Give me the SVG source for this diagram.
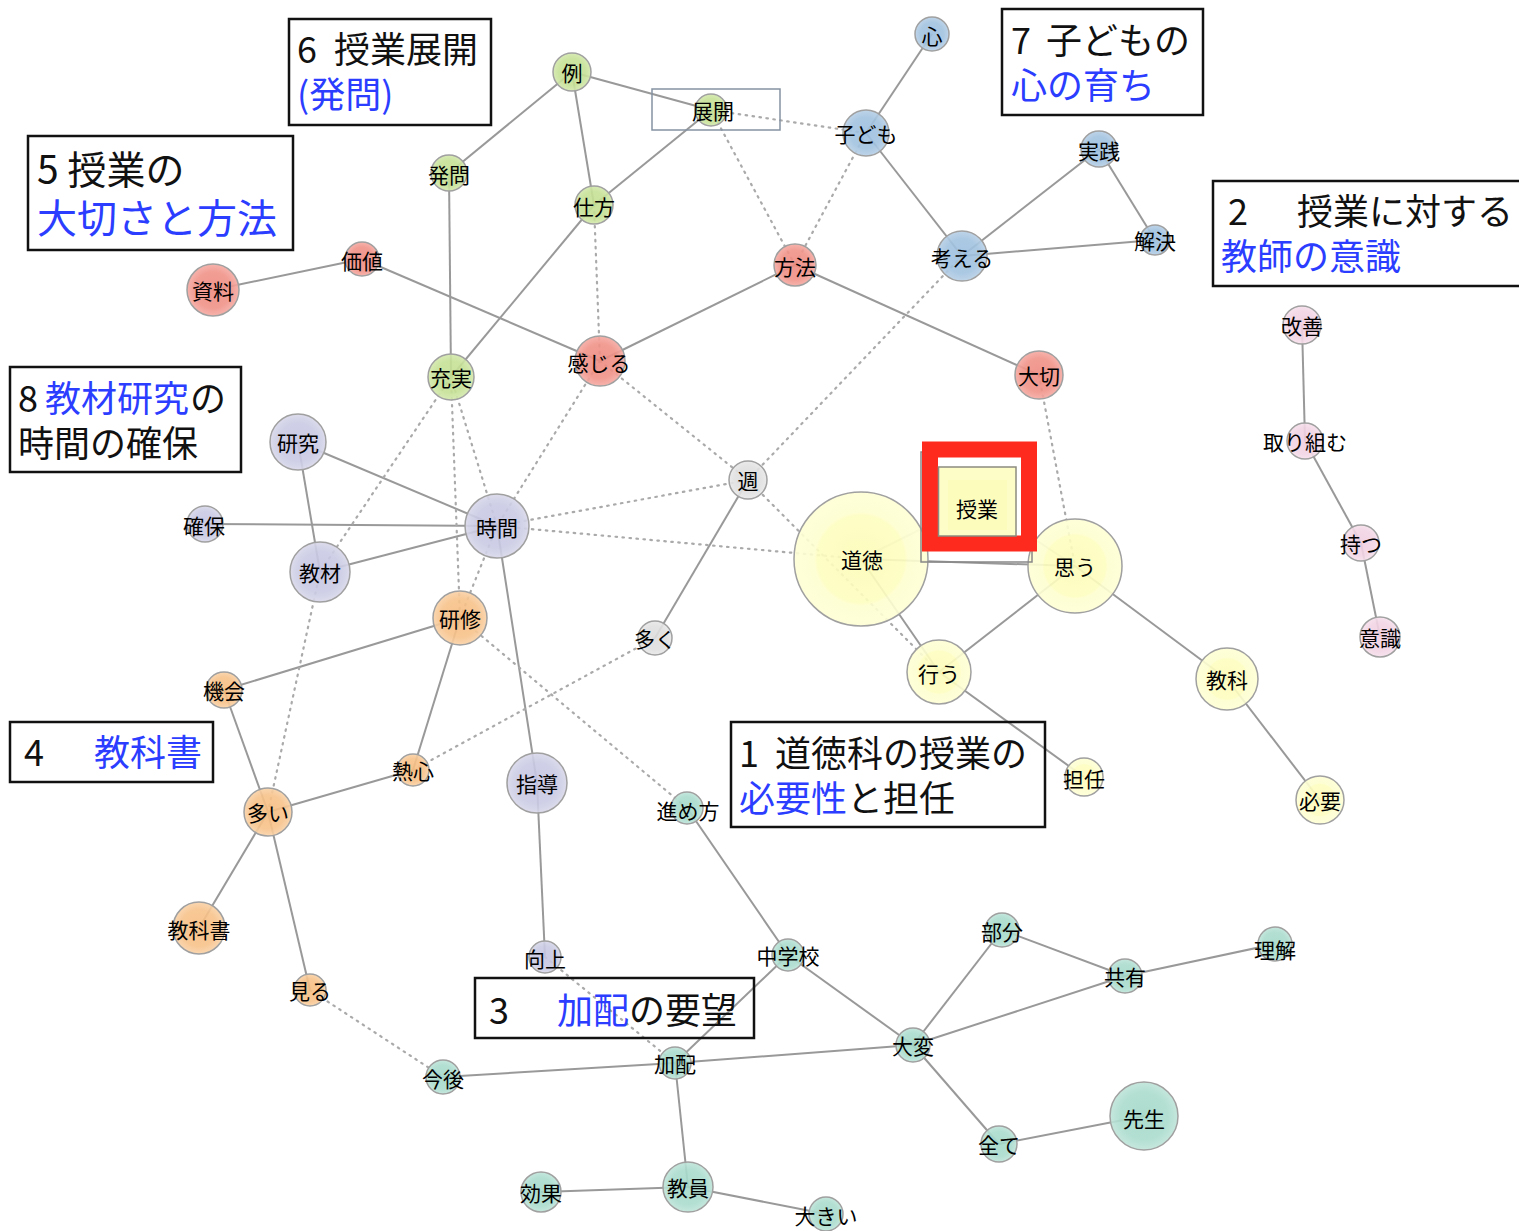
<svg xmlns="http://www.w3.org/2000/svg" width="1519" height="1231" viewBox="0 0 1519 1231">
<style>
.e{stroke:#999;stroke-width:2;fill:none}
.d{stroke:#aaa;stroke-width:2.2;fill:none;stroke-dasharray:1.5 5.5;stroke-linecap:round}
.n circle{stroke:#a0a0a0;stroke-width:1.5;fill-opacity:0.9}
.n text{font-family:"Noto Sans CJK JP","Noto Sans",sans-serif;font-size:21px;fill:#000;text-anchor:middle;dominant-baseline:central}
.g circle{fill:url(#gG)}.r circle{fill:url(#gR)}.b circle{fill:url(#gB)}.p circle{fill:url(#gP)}
.l circle{fill:url(#gL)}.o circle{fill:url(#gO)}.y circle{fill:url(#gY)}.t circle{fill:url(#gT)}.k circle{fill:url(#gK)}
.box rect{fill:none;stroke:#111;stroke-width:2.5}
.box text{font-family:"Noto Sans CJK JP","Noto Sans",sans-serif;font-size:36px;fill:#111}
.box .bl{fill:#2b3dff}
</style>
<defs>
<radialGradient id="gG"><stop offset="0" stop-color="#c3df91"/><stop offset="0.7" stop-color="#c6e196"/><stop offset="1" stop-color="#d3e8ad"/></radialGradient>
<radialGradient id="gR"><stop offset="0" stop-color="#ee8a80"/><stop offset="0.7" stop-color="#f09389"/><stop offset="1" stop-color="#f5aba3"/></radialGradient>
<radialGradient id="gB"><stop offset="0" stop-color="#9cbfdf"/><stop offset="0.7" stop-color="#a3c3e0"/><stop offset="1" stop-color="#b8d0e6"/></radialGradient>
<radialGradient id="gP"><stop offset="0" stop-color="#f0cfe0"/><stop offset="0.7" stop-color="#f2d4e4"/><stop offset="1" stop-color="#f6e0eb"/></radialGradient>
<radialGradient id="gL"><stop offset="0" stop-color="#c5c5e3"/><stop offset="0.7" stop-color="#cacae4"/><stop offset="1" stop-color="#d8d8ea"/></radialGradient>
<radialGradient id="gO"><stop offset="0" stop-color="#f6bd80"/><stop offset="0.7" stop-color="#f7c28a"/><stop offset="1" stop-color="#f9d2a8"/></radialGradient>
<radialGradient id="gY"><stop offset="0" stop-color="#fcfcb8"/><stop offset="0.65" stop-color="#fdfdc0"/><stop offset="0.7" stop-color="#fefed0"/><stop offset="1" stop-color="#fefed4"/></radialGradient>
<radialGradient id="gT"><stop offset="0" stop-color="#a4d8c8"/><stop offset="0.7" stop-color="#aadccd"/><stop offset="1" stop-color="#c0e4d9"/></radialGradient>
<radialGradient id="gK"><stop offset="0" stop-color="#dcdcdc"/><stop offset="0.7" stop-color="#e0e0e0"/><stop offset="1" stop-color="#e8e8e8"/></radialGradient>
</defs>
<rect width="1519" height="1231" fill="#fff"/>
<g id="connectors">
<line class="e" x1="572" y1="72" x2="449" y2="173"/>
<line class="e" x1="572" y1="72" x2="711" y2="110"/>
<line class="e" x1="572" y1="72" x2="594" y2="205"/>
<line class="e" x1="711" y1="110" x2="594" y2="205"/>
<line class="e" x1="594" y1="205" x2="451" y2="377"/>
<line class="e" x1="449" y1="173" x2="451" y2="377"/>
<line class="e" x1="213" y1="290" x2="362" y2="259"/>
<line class="e" x1="362" y1="259" x2="600" y2="361"/>
<line class="e" x1="600" y1="361" x2="795" y2="265"/>
<line class="e" x1="795" y1="265" x2="1039" y2="375"/>
<line class="e" x1="932" y1="34" x2="866" y2="133"/>
<line class="e" x1="866" y1="133" x2="962" y2="256"/>
<line class="e" x1="962" y1="256" x2="1099" y2="149"/>
<line class="e" x1="962" y1="256" x2="1155" y2="240"/>
<line class="e" x1="1099" y1="149" x2="1155" y2="240"/>
<line class="e" x1="1302" y1="325" x2="1305" y2="441"/>
<line class="e" x1="1305" y1="441" x2="1361" y2="543"/>
<line class="e" x1="1361" y1="543" x2="1380" y2="637"/>
<line class="e" x1="298" y1="442" x2="497" y2="526"/>
<line class="e" x1="298" y1="442" x2="320" y2="572"/>
<line class="e" x1="205" y1="524" x2="497" y2="526"/>
<line class="e" x1="320" y1="572" x2="497" y2="526"/>
<line class="e" x1="497" y1="526" x2="537" y2="783"/>
<line class="e" x1="537" y1="783" x2="545" y2="957"/>
<line class="e" x1="460" y1="618" x2="224" y2="690"/>
<line class="e" x1="460" y1="618" x2="413" y2="770"/>
<line class="e" x1="224" y1="690" x2="268" y2="812"/>
<line class="e" x1="413" y1="770" x2="268" y2="812"/>
<line class="e" x1="268" y1="812" x2="199" y2="928"/>
<line class="e" x1="268" y1="812" x2="310" y2="990"/>
<line class="e" x1="748" y1="480" x2="655" y2="638"/>
<line class="e" x1="861" y1="559" x2="977" y2="501" stroke-opacity="0.5"/>
<line class="e" x1="861" y1="559" x2="1075" y2="566"/>
<line class="e" x1="861" y1="559" x2="939" y2="672"/>
<line class="e" x1="977" y1="501" x2="1075" y2="566" stroke-opacity="0.6"/>
<line class="e" x1="1075" y1="566" x2="939" y2="672"/>
<line class="e" x1="939" y1="672" x2="1084" y2="777"/>
<line class="e" x1="1075" y1="566" x2="1227" y2="679"/>
<line class="e" x1="1227" y1="679" x2="1320" y2="800"/>
<line class="e" x1="687" y1="808" x2="788" y2="955"/>
<line class="e" x1="788" y1="955" x2="913" y2="1045"/>
<line class="e" x1="788" y1="955" x2="675" y2="1063"/>
<line class="e" x1="443" y1="1077" x2="675" y2="1063"/>
<line class="e" x1="675" y1="1063" x2="913" y2="1045"/>
<line class="e" x1="675" y1="1063" x2="688" y2="1187"/>
<line class="e" x1="913" y1="1045" x2="1002" y2="930"/>
<line class="e" x1="913" y1="1045" x2="1125" y2="976"/>
<line class="e" x1="913" y1="1045" x2="999" y2="1144"/>
<line class="e" x1="1002" y1="930" x2="1125" y2="976"/>
<line class="e" x1="1125" y1="976" x2="1275" y2="944"/>
<line class="e" x1="999" y1="1144" x2="1144" y2="1116"/>
<line class="e" x1="541" y1="1192" x2="688" y2="1187"/>
<line class="e" x1="688" y1="1187" x2="826" y2="1214"/>
<line class="d" x1="711" y1="110" x2="866" y2="133"/>
<line class="d" x1="711" y1="110" x2="795" y2="265"/>
<line class="d" x1="866" y1="133" x2="795" y2="265"/>
<line class="d" x1="594" y1="205" x2="600" y2="361"/>
<line class="d" x1="600" y1="361" x2="748" y2="480"/>
<line class="d" x1="962" y1="256" x2="748" y2="480"/>
<line class="d" x1="1039" y1="375" x2="1075" y2="566"/>
<line class="d" x1="451" y1="377" x2="320" y2="572"/>
<line class="d" x1="451" y1="377" x2="497" y2="526"/>
<line class="d" x1="451" y1="377" x2="460" y2="618"/>
<line class="d" x1="600" y1="361" x2="497" y2="526"/>
<line class="d" x1="497" y1="526" x2="748" y2="480"/>
<line class="d" x1="497" y1="526" x2="861" y2="559"/>
<line class="d" x1="497" y1="526" x2="460" y2="618"/>
<line class="d" x1="748" y1="480" x2="939" y2="672"/>
<line class="d" x1="460" y1="618" x2="687" y2="808"/>
<line class="d" x1="413" y1="770" x2="655" y2="638"/>
<line class="d" x1="320" y1="572" x2="268" y2="812"/>
<line class="d" x1="310" y1="990" x2="443" y2="1077"/>
<line class="d" x1="545" y1="957" x2="675" y2="1063"/>
</g>
<g id="n-rei" class="n g"><circle cx="572" cy="72" r="19"/><text x="572" y="72">例</text></g>
<g id="n-hatsumon" class="n g"><circle cx="449" cy="173" r="18"/><text x="449" y="174">発問</text></g>
<g id="n-shikata" class="n g"><circle cx="594" cy="205" r="19"/><text x="594" y="206">仕方</text></g>
<g id="n-juujitsu" class="n g"><circle cx="451" cy="377" r="23"/><text x="451" y="377">充実</text></g>
<g id="n-tenkai" class="n g"><circle cx="711" cy="110" r="16"/><rect x="652" y="89" width="128" height="41" fill="none" stroke="#8492a2" stroke-width="1.5"/><text x="713" y="110">展開</text></g>
<g id="n-shiryo" class="n r"><circle cx="213" cy="290" r="26"/><text x="213" y="290">資料</text></g>
<g id="n-kachi" class="n r"><circle cx="362" cy="259" r="17"/><text x="362" y="260">価値</text></g>
<g id="n-kanjiru" class="n r"><circle cx="600" cy="361" r="25"/><text x="599" y="362">感じる</text></g>
<g id="n-houhou" class="n r"><circle cx="795" cy="265" r="21"/><text x="795" y="266">方法</text></g>
<g id="n-taisetsu" class="n r"><circle cx="1039" cy="375" r="24"/><text x="1039" y="375">大切</text></g>
<g id="n-kokoro" class="n b"><circle cx="932" cy="34" r="17"/><text x="932" y="35">心</text></g>
<g id="n-kodomo" class="n b"><circle cx="866" cy="133" r="23"/><text x="866" y="133">子ども</text></g>
<g id="n-jissen" class="n b"><circle cx="1099" cy="149" r="18"/><text x="1099" y="150">実践</text></g>
<g id="n-kangaeru" class="n b"><circle cx="962" cy="256" r="25"/><text x="962" y="257">考える</text></g>
<g id="n-kaiketsu" class="n b"><circle cx="1155" cy="240" r="15"/><text x="1155" y="240">解決</text></g>
<g id="n-kaizen" class="n p"><circle cx="1302" cy="325" r="19"/><text x="1302" y="325">改善</text></g>
<g id="n-torikumu" class="n p"><circle cx="1305" cy="441" r="18"/><text x="1305" y="441">取り組む</text></g>
<g id="n-motsu" class="n p"><circle cx="1361" cy="543" r="18"/><text x="1361" y="543">持つ</text></g>
<g id="n-ishiki" class="n p"><circle cx="1380" cy="637" r="20"/><text x="1380" y="637">意識</text></g>
<g id="n-kenkyu" class="n l"><circle cx="298" cy="442" r="28"/><text x="298" y="442">研究</text></g>
<g id="n-kakuho" class="n l"><circle cx="205" cy="524" r="18"/><text x="204" y="525">確保</text></g>
<g id="n-jikan" class="n l"><circle cx="497" cy="526" r="32"/><text x="497" y="527">時間</text></g>
<g id="n-kyozai" class="n l"><circle cx="320" cy="572" r="30"/><text x="320" y="572">教材</text></g>
<g id="n-shido" class="n l"><circle cx="537" cy="783" r="30"/><text x="537" y="783">指導</text></g>
<g id="n-kojo" class="n l"><circle cx="545" cy="957" r="16"/><text x="545" y="958">向上</text></g>
<g id="n-kenshu" class="n o"><circle cx="460" cy="618" r="27"/><text x="460" y="618">研修</text></g>
<g id="n-kikai" class="n o"><circle cx="224" cy="690" r="18"/><text x="224" y="690">機会</text></g>
<g id="n-nesshin" class="n o"><circle cx="413" cy="770" r="16"/><text x="413" y="770">熱心</text></g>
<g id="n-ooi" class="n o"><circle cx="268" cy="812" r="24"/><text x="268" y="812">多い</text></g>
<g id="n-kyokasho" class="n o"><circle cx="199" cy="928" r="26"/><text x="199" y="929">教科書</text></g>
<g id="n-miru" class="n o"><circle cx="310" cy="990" r="16"/><text x="310" y="990">見る</text></g>
<g id="n-shu" class="n k"><circle cx="748" cy="480" r="19"/><text x="748" y="480">週</text></g>
<g id="n-ooku" class="n k"><circle cx="655" cy="638" r="17"/><text x="655" y="638">多く</text></g>
<g id="n-dotoku" class="n y"><circle cx="861" cy="559" r="67"/><text x="862" y="559">道徳</text></g>
<g id="n-omou" class="n y"><circle cx="1075" cy="566" r="47"/><text x="1075" y="566">思う</text></g>
<g id="n-okonau" class="n y"><circle cx="939" cy="672" r="32"/><text x="939" y="673">行う</text></g>
<g id="n-tannin" class="n y"><circle cx="1084" cy="777" r="19"/><text x="1084" y="778">担任</text></g>
<g id="n-kyoka" class="n y"><circle cx="1227" cy="679" r="31"/><text x="1227" y="679">教科</text></g>
<g id="n-hitsuyo" class="n y"><circle cx="1320" cy="800" r="24"/><text x="1320" y="800">必要</text></g>
<g id="n-jugyo" class="n">
<rect x="921" y="452" width="111" height="110" fill="none" stroke="#888" stroke-width="1.5"/>
<rect x="930" y="449.5" width="99" height="94" fill="#fff" stroke="#ff2a1e" stroke-width="16"/>
<rect x="938.5" y="467" width="77.5" height="69" fill="#fdfdc8" stroke="#8c8c80" stroke-width="1.5"/>
<rect x="948" y="480" width="59" height="50" fill="#fbfbb8" opacity="0.7"/>
<text x="977" y="508">授業</text></g>
<g id="n-susumekata" class="n t"><circle cx="687" cy="808" r="16"/><text x="688" y="810">進め方</text></g>
<g id="n-chugakko" class="n t"><circle cx="788" cy="955" r="16"/><text x="788" y="955">中学校</text></g>
<g id="n-kongo" class="n t"><circle cx="443" cy="1077" r="17"/><text x="443" y="1078">今後</text></g>
<g id="n-kahai" class="n t"><circle cx="675" cy="1063" r="16"/><text x="675" y="1063">加配</text></g>
<g id="n-taihen" class="n t"><circle cx="913" cy="1045" r="17"/><text x="913" y="1045">大変</text></g>
<g id="n-bubun" class="n t"><circle cx="1002" cy="930" r="17"/><text x="1002" y="931">部分</text></g>
<g id="n-kyoyu" class="n t"><circle cx="1125" cy="976" r="17"/><text x="1125" y="976">共有</text></g>
<g id="n-rikai" class="n t"><circle cx="1275" cy="944" r="17"/><text x="1275" y="949">理解</text></g>
<g id="n-subete" class="n t"><circle cx="999" cy="1144" r="18"/><text x="999" y="1144">全て</text></g>
<g id="n-sensei" class="n t"><circle cx="1144" cy="1116" r="34"/><text x="1144" y="1118">先生</text></g>
<g id="n-koka" class="n t"><circle cx="541" cy="1192" r="20"/><text x="541" y="1192">効果</text></g>
<g id="n-kyoin" class="n t"><circle cx="688" cy="1187" r="25"/><text x="688" y="1187">教員</text></g>
<g id="n-ookii" class="n t"><circle cx="826" cy="1214" r="17"/><text x="826" y="1215">大きい</text></g>
<g id="box6" class="box"><rect x="289" y="19" width="202" height="106"/><text x="297" y="63">6</text><text x="334" y="63">授業展開</text><text x="297" y="108" class="bl">(発問)</text></g>
<g id="box5" class="box"><rect x="28" y="136" width="265" height="114"/><text x="37" y="184" style="font-size:39px">5 授業の</text><text x="37" y="233" class="bl" style="font-size:40px">大切さと方法</text></g>
<g id="box7" class="box"><rect x="1002" y="9" width="201" height="106"/><text x="1011" y="54">7</text><text x="1046" y="54">子どもの</text><text x="1011" y="99" class="bl">心の育ち</text></g>
<g id="box2" class="box"><rect x="1213" y="181" width="310" height="105"/><text x="1228" y="225">2</text><text x="1297" y="225">授業に対する</text><text x="1221" y="270" class="bl">教師の意識</text></g>
<g id="box8" class="box"><rect x="10" y="367" width="231" height="105"/><text x="18" y="412">8</text><text x="45" y="412" class="bl">教材研究</text><text x="190" y="412">の</text><text x="18" y="457">時間の確保</text></g>
<g id="box4" class="box"><rect x="10" y="722" width="203" height="60"/><text x="24" y="766">4</text><text x="94" y="766" class="bl">教科書</text></g>
<g id="box1" class="box"><rect x="731" y="722" width="314" height="105"/><text x="739" y="767">1</text><text x="775" y="767">道徳科の授業の</text><text x="739" y="812" class="bl">必要性</text><text x="847" y="812">と担任</text></g>
<g id="box3" class="box"><rect x="475" y="978" width="279" height="60"/><text x="489" y="1024">3</text><text x="557" y="1024" class="bl">加配</text><text x="629" y="1024">の要望</text></g>
</svg>
